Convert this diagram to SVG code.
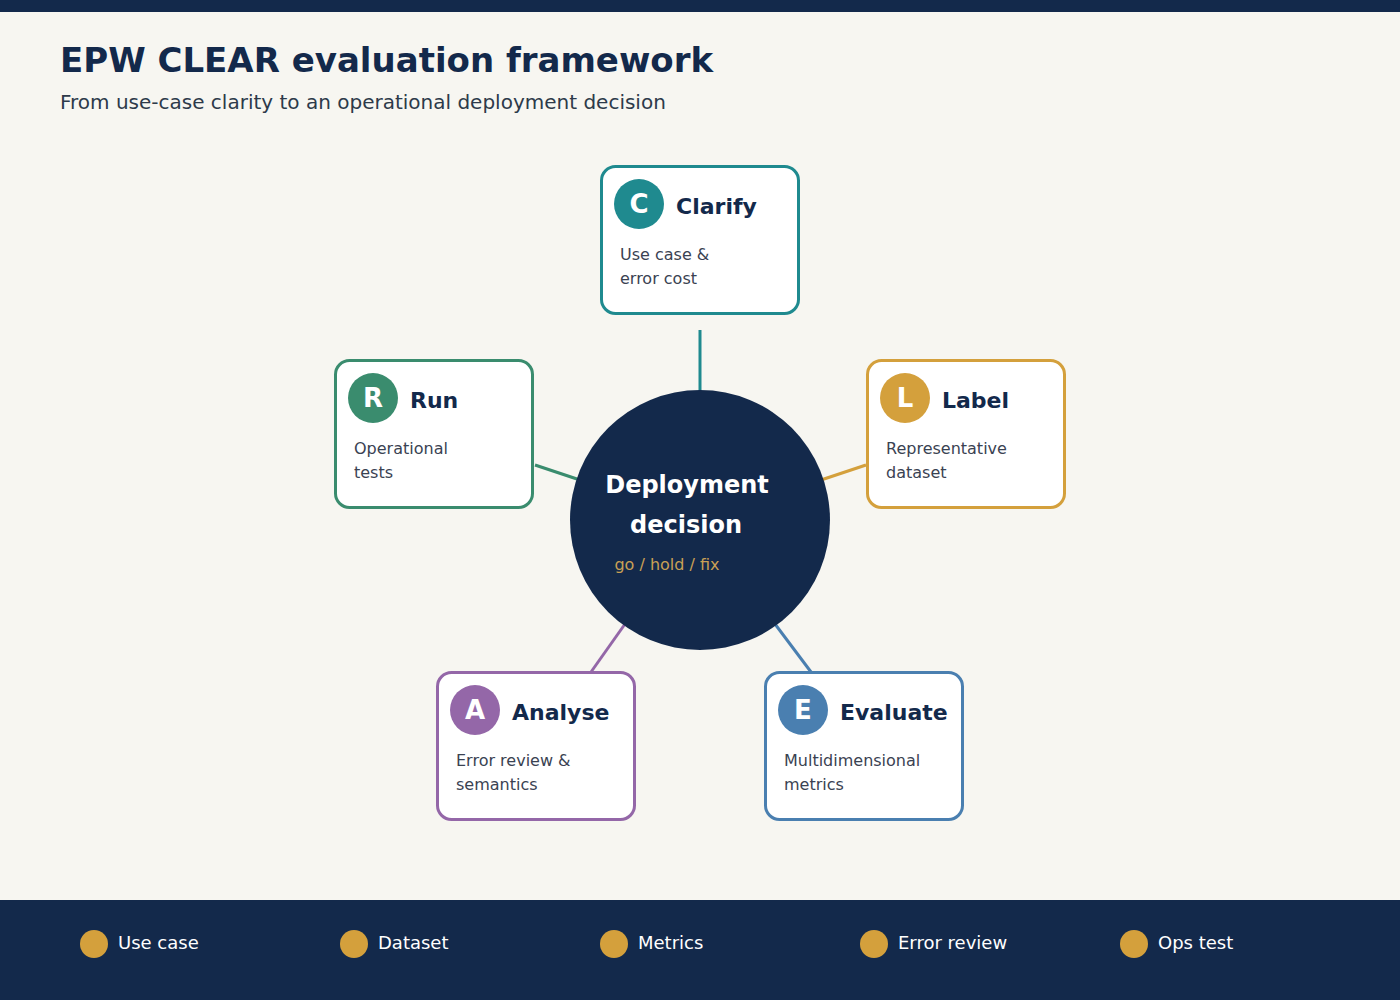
<svg xmlns="http://www.w3.org/2000/svg" width="1400" height="1000" viewBox="0 0 1400 1000">
<style>
.title{font-family:"DejaVu Sans",sans-serif;font-weight:bold;font-size:34px;fill:#13294b}
.sub{font-family:"DejaVu Sans",sans-serif;font-size:20px;fill:#2d3a4a}
.box{fill:#ffffff;stroke-width:3}
.letter{font-family:"DejaVu Sans",sans-serif;font-weight:bold;font-size:26px;fill:#ffffff;text-anchor:middle}
.ntitle{font-family:"DejaVu Sans",sans-serif;font-weight:bold;font-size:22px;fill:#13294b}
.desc{font-family:"DejaVu Sans",sans-serif;font-size:16px;fill:#3a4252}
.conn line{stroke-width:3}
.ctitle{font-family:"DejaVu Sans",sans-serif;font-weight:bold;font-size:24px;fill:#ffffff;text-anchor:middle}
.csub{font-family:"DejaVu Sans",sans-serif;font-size:16px;fill:#c9a055;text-anchor:middle}
.leg{font-family:"DejaVu Sans",sans-serif;font-size:18px;fill:#ffffff}
</style>
<rect width="1400" height="1000" fill="#f7f6f1"/>
<rect width="1400" height="12" fill="#13294b"/>
<text class="title" x="60" y="72">EPW CLEAR evaluation framework</text>
<text class="sub" x="60" y="109">From use-case clarity to an operational deployment decision</text>

<g id="connectors" class="conn">
<line x1="700" y1="330" x2="700" y2="392" stroke="#1f8a8f"/>
<line x1="535" y1="465" x2="580" y2="480" stroke="#3a8c6e"/>
<line x1="866" y1="465" x2="821" y2="480" stroke="#d4a03c"/>
<line x1="591" y1="672" x2="625" y2="624" stroke="#9467a8"/>
<line x1="811" y1="672" x2="775" y2="624" stroke="#4a7fb0"/>
</g>

<g id="center">
<circle cx="700" cy="520" r="130" fill="#13294b"/>
<text class="ctitle" x="687" y="493">Deployment</text>
<text class="ctitle" x="686" y="533">decision</text>
<text class="csub" x="667" y="570">go / hold / fix</text>
</g>

<g id="clarify">
<rect class="box" x="601.5" y="166.5" width="197" height="147" rx="14" stroke="#1f8a8f"/>
<circle cx="639" cy="204" r="25" fill="#1f8a8f"/>
<text class="letter" x="639" y="213">C</text>
<text class="ntitle" x="676" y="214">Clarify</text>
<text class="desc" x="620" y="260">Use case &amp;</text>
<text class="desc" x="620" y="284">error cost</text>
</g>

<g id="run">
<rect class="box" x="335.5" y="360.5" width="197" height="147" rx="14" stroke="#3a8c6e"/>
<circle cx="373" cy="398" r="25" fill="#3a8c6e"/>
<text class="letter" x="373" y="407">R</text>
<text class="ntitle" x="410" y="408">Run</text>
<text class="desc" x="354" y="454">Operational</text>
<text class="desc" x="354" y="478">tests</text>
</g>

<g id="label">
<rect class="box" x="867.5" y="360.5" width="197" height="147" rx="14" stroke="#d4a03c"/>
<circle cx="905" cy="398" r="25" fill="#d4a03c"/>
<text class="letter" x="905" y="407">L</text>
<text class="ntitle" x="942" y="408">Label</text>
<text class="desc" x="886" y="454">Representative</text>
<text class="desc" x="886" y="478">dataset</text>
</g>

<g id="analyse">
<rect class="box" x="437.5" y="672.5" width="197" height="147" rx="14" stroke="#9467a8"/>
<circle cx="475" cy="710" r="25" fill="#9467a8"/>
<text class="letter" x="475" y="719">A</text>
<text class="ntitle" x="512" y="720">Analyse</text>
<text class="desc" x="456" y="766">Error review &amp;</text>
<text class="desc" x="456" y="790">semantics</text>
</g>

<g id="evaluate">
<rect class="box" x="765.5" y="672.5" width="197" height="147" rx="14" stroke="#4a7fb0"/>
<circle cx="803" cy="710" r="25" fill="#4a7fb0"/>
<text class="letter" x="803" y="719">E</text>
<text class="ntitle" x="840" y="720">Evaluate</text>
<text class="desc" x="784" y="766">Multidimensional</text>
<text class="desc" x="784" y="790">metrics</text>
</g>

<g id="legend">
<rect x="0" y="900" width="1400" height="100" fill="#13294b"/>
<circle cx="94" cy="944" r="14" fill="#d4a03c"/>
<text class="leg" x="118" y="949">Use case</text>
<circle cx="354" cy="944" r="14" fill="#d4a03c"/>
<text class="leg" x="378" y="949">Dataset</text>
<circle cx="614" cy="944" r="14" fill="#d4a03c"/>
<text class="leg" x="638" y="949">Metrics</text>
<circle cx="874" cy="944" r="14" fill="#d4a03c"/>
<text class="leg" x="898" y="949">Error review</text>
<circle cx="1134" cy="944" r="14" fill="#d4a03c"/>
<text class="leg" x="1158" y="949">Ops test</text>
</g>
</svg>
